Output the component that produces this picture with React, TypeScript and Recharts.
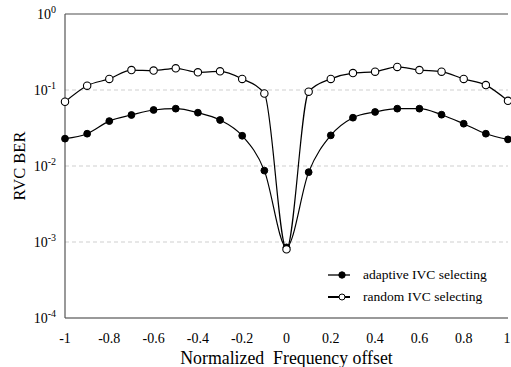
import React from 'react';
import { LineChart, Line, XAxis, YAxis, ReferenceLine } from 'recharts';

const freqOffsets = [-1, -0.9, -0.8, -0.7, -0.6, -0.5, -0.4, -0.3, -0.2, -0.1, 0, 0.1, 0.2, 0.3, 0.4, 0.5, 0.6, 0.7, 0.8, 0.9, 1];
const adaptiveBer = [0.0229, 0.0266, 0.039, 0.0469, 0.0546, 0.0568, 0.0503, 0.0403, 0.025, 0.0087, 0.00085, 0.0083, 0.0253, 0.0432, 0.0514, 0.0568, 0.0568, 0.0473, 0.036, 0.0266, 0.0224];
const randomBer = [0.07, 0.114, 0.14, 0.183, 0.18, 0.193, 0.171, 0.176, 0.14, 0.09, 0.0008, 0.095, 0.14, 0.167, 0.174, 0.201, 0.183, 0.174, 0.14, 0.116, 0.072];
const xTicks = [-1, -0.8, -0.6, -0.4, -0.2, 0, 0.2, 0.4, 0.6, 0.8, 1];
const yTicks = [1e-4, 1e-3, 1e-2, 1e-1, 1];
const gridLines = [1e-3, 1e-2, 1e-1];
const seriesNames = ['adaptive IVC selecting', 'random IVC selecting'];

const data = freqOffsets.map((f, i) => ({ f, adaptive: adaptiveBer[i], random: randomBer[i] }));

const FONT = "'Liberation Serif', 'Times New Roman', Times, serif";

const YTick = (props: any) => {
  const { x, y, payload } = props;
  const exp = Math.round(Math.log10(payload.value));
  return (
    <text x={x - 1} y={y + 5} textAnchor="end" style={{ fontFamily: FONT, fontSize: 14 }} fill="#000">
      <tspan>10</tspan>
      <tspan style={{ fontSize: 10 }} dy={-6}>{exp}</tspan>
    </text>
  );
};

const XTick = (props: any) => {
  const { x, y, payload } = props;
  return (
    <text x={x} y={y + 17} textAnchor="middle" style={{ fontFamily: FONT, fontSize: 14 }} fill="#000">
      {String(payload.value)}
    </text>
  );
};

const LegendBox = () => (
  <svg width={180} height={44} style={{ position: 'absolute', left: 328, top: 266, overflow: 'visible' }}>
    <g>
      <line x1={0} x2={22} y1={9} y2={9} stroke="#000" strokeWidth={1.3} />
      <circle cx={14} cy={9} r={3.2} fill="#000" stroke="#000" />
      <text x={35} y={13} style={{ fontFamily: FONT, fontSize: 13.5 }} fill="#000">{seriesNames[0]}</text>
    </g>
    <g>
      <line x1={0} x2={22} y1={31} y2={31} stroke="#000" strokeWidth={2} />
      <circle cx={14} cy={31} r={3} fill="#fff" stroke="#000" strokeWidth={1} />
      <text x={35} y={35} style={{ fontFamily: FONT, fontSize: 13.5 }} fill="#000">{seriesNames[1]}</text>
    </g>
  </svg>
);

export default function App() {
  return (
    <div style={{ position: 'absolute', left: 0, top: 0, width: 511, height: 367, background: '#fff', fontFamily: FONT }}>
      <LineChart width={511} height={367} data={data} margin={{ top: 14, right: 3, bottom: 0, left: 0 }} style={{ fontFamily: FONT }}>
        {gridLines.map((g) => (
          <ReferenceLine key={g} y={g} stroke="#cfcfcf" strokeDasharray="4 3" strokeWidth={1} />
        ))}
        <ReferenceLine y={1} stroke="#888" strokeWidth={1.5} />
        <XAxis
          dataKey="f"
          type="number"
          domain={[-1, 1]}
          ticks={xTicks}
          tick={<XTick />}
          tickLine={false}
          axisLine={{ stroke: '#999', strokeWidth: 2 }}
          height={49}
          label={{ value: 'Normalized\u00a0\u00a0Frequency offset', position: 'insideBottom', offset: 3, style: { fontFamily: FONT, fontSize: 17.8, fill: '#000' } }}
        />
        <YAxis
          scale="log"
          type="number"
          domain={[1e-4, 1]}
          ticks={yTicks}
          allowDataOverflow
          tick={<YTick />}
          tickLine={false}
          axisLine={{ stroke: '#555', strokeWidth: 1.2 }}
          width={65}
          label={{ value: 'RVC BER', angle: -90, position: 'insideLeft', offset: 19, style: { fontFamily: FONT, fontSize: 16.5, fill: '#000', textAnchor: 'middle' } }}
        />
        <Line
          dataKey="adaptive"
          type="monotone"
          stroke="#000"
          strokeWidth={1.2}
          dot={{ r: 3.4, fill: '#000', stroke: '#000', strokeWidth: 1 }}
          isAnimationActive={false}
        />
        <Line
          dataKey="random"
          type="monotone"
          stroke="#000"
          strokeWidth={1.2}
          dot={{ r: 3.7, fill: '#fff', stroke: '#000', strokeWidth: 1.1 }}
          isAnimationActive={false}
        />
      </LineChart>
      <LegendBox />
    </div>
  );
}
